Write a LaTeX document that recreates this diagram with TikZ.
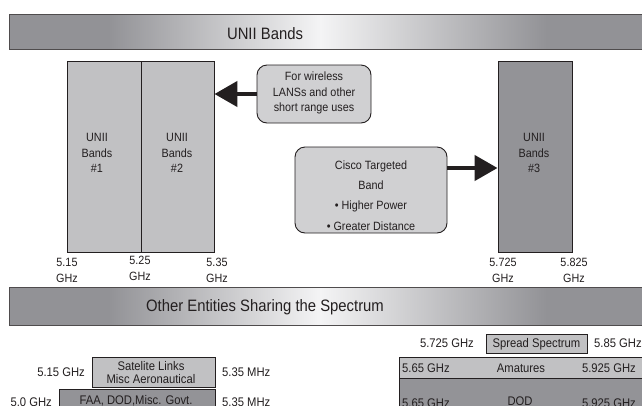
\documentclass[tikz,border=0pt]{standalone}
\usepackage{fontspec}
\setmainfont{Liberation Sans}[FakeStretch=0.9]
\usetikzlibrary{arrows.meta}
\definecolor{ink}{HTML}{231F20}
\definecolor{lightfill}{HTML}{C1C1C3}
\definecolor{darkfill}{HTML}{939397}
\definecolor{bubblefill}{HTML}{D0D0D2}
\definecolor{bardark}{HTML}{929296}
\definecolor{barlight}{HTML}{F4F4F5}
\pgfdeclarehorizontalshading{barshade}{100bp}{color(0bp)=(bardark); color(32.6bp)=(bardark); color(48.9bp)=(barlight); color(66.3bp)=(bardark); color(100bp)=(bardark)}
\tikzset{
  bandbox/.style={draw=ink, line width=0.9pt, inner sep=0pt},
  bubble/.style={draw=ink, line width=0.9pt, fill=bubblefill, rounded corners=10pt, inner sep=0pt},
  titlebar/.style={draw=ink!80, line width=0.9pt, shading=barshade, inner sep=0pt},
  titletext/.style={text=ink, inner sep=0pt, font=\fontsize{16.5}{19}\selectfont},
  lab/.style={text=ink, inner sep=0pt, align=center, font=\fontsize{12}{15.5}\selectfont},
  ciscotext/.style={text=ink, inner sep=0pt, align=center, font=\fontsize{12}{20.3}\selectfont},
  low/.style={text=ink, inner sep=0pt, align=center, font=\fontsize{12.5}{13}\selectfont},
  bigarrow/.style={draw=ink, line width=4.5pt, -{Triangle[length=23pt,width=25pt]}}
}
\begin{document}
\begin{tikzpicture}[x=1pt,y=-1pt]
\useasboundingbox (0,0) rectangle (642,405);
\clip (0,0) rectangle (642,405);
\fill[white] (0,0) rectangle (642,405);
% title bars
\node[titlebar, minimum width=651pt, minimum height=35pt] (bar1) at (334.5,31.5) {};
\node[titletext, anchor=base] (bar1t) at (265,39.3) {UNII Bands};
\node[titlebar, minimum width=651pt, minimum height=38pt] (bar2) at (334.5,306) {};
\node[titletext, anchor=base] (bar2t) at (265,311.7) {Other Entities Sharing the Spectrum};
% UNII bands
\node[bandbox, fill=lightfill, minimum width=74pt, minimum height=191pt] (u1) at (104,156.5) {};
\node[bandbox, fill=lightfill, minimum width=73pt, minimum height=191pt] (u2) at (177.5,156.5) {};
\node[bandbox, fill=darkfill, minimum width=74pt, minimum height=191pt] (u3) at (535,156.5) {};
\node[lab] (u1t) at (97,153) {UNII\\Bands\\\#1};
\node[lab] (u2t) at (177,153) {UNII\\Bands\\\#2};
\node[lab] (u3t) at (534,153) {UNII\\Bands\\\#3};
% frequency labels
\node[lab] (f1) at (67,270.5) {5.15\\GHz};
\node[lab] (f2) at (140,268.5) {5.25\\GHz};
\node[lab] (f3) at (217,270.5) {5.35\\GHz};
\node[lab] (f4) at (503,270.5) {5.725\\GHz};
\node[lab] (f5) at (574,270.5) {5.825\\GHz};
% callouts
\node[bubble, minimum width=114pt, minimum height=58pt] (wl) at (314,94) {};
\node[lab] (wlt) at (314,93) {For wireless\\LANSs and other\\short range uses};
\node[bubble, minimum width=152pt, minimum height=86pt] (cisco) at (371,190) {};
\node[ciscotext] (ciscot) at (371,195.5) {Cisco Targeted\\Band\\• Higher Power\\• Greater Distance};
\draw[bigarrow] (wl.west) -- (wl.west -| u2.east);
\coordinate (a2y) at (0,168);
\draw[bigarrow] (cisco.east |- a2y) -- (u3.west |- a2y);
% other entities
\node[bandbox, fill=lightfill, minimum width=123pt, minimum height=30pt] (sat) at (153.5,372) {};
\node[low] (satt) at (151,373) {Satelite Links\\Misc Aeronautical};
\node[bandbox, fill=darkfill, minimum width=156pt, minimum height=31pt] (faa) at (137,404.5) {};
\node[low, anchor=base] (faat) at (136,404.5) {FAA, DOD,Misc. Govt.};
\node[low, anchor=base east] (l1) at (85,376.5) {5.15 GHz};
\node[low, anchor=base west] (l2) at (222,376.5) {5.35 MHz};
\node[low, anchor=base east] (l3) at (52,406.5) {5.0 GHz};
\node[low, anchor=base west] (l4) at (222,406.5) {5.35 MHz};
\node[bandbox, fill=lightfill, minimum width=101pt, minimum height=19pt] (ss) at (536.5,343.5) {};
\node[low, anchor=base] (sst) at (536.5,347) {Spread Spectrum};
\node[low, anchor=base east] (r1) at (474,347) {5.725 GHz};
\node[low, anchor=base west] (r2) at (594,347) {5.85 GHz};
\node[bandbox, fill=lightfill, minimum width=261pt, minimum height=21pt] (amat) at (529.5,367.5) {};
\node[low, anchor=base] (amatt) at (521,372.5) {Amatures};
\node[low, anchor=base west] (r3) at (402,372.5) {5.65 GHz};
\node[low, anchor=base east] (r4) at (636,372.5) {5.925 GHz};
\node[bandbox, fill=darkfill, minimum width=261pt, minimum height=42pt] (dod) at (529.5,399) {};
\node[low, anchor=base] (dodt) at (520,405) {DOD};
\node[low, anchor=base west] (r5) at (402,407) {5.65 GHz};
\node[low, anchor=base east] (r6) at (636,407) {5.925 GHz};
\end{tikzpicture}
\end{document}
